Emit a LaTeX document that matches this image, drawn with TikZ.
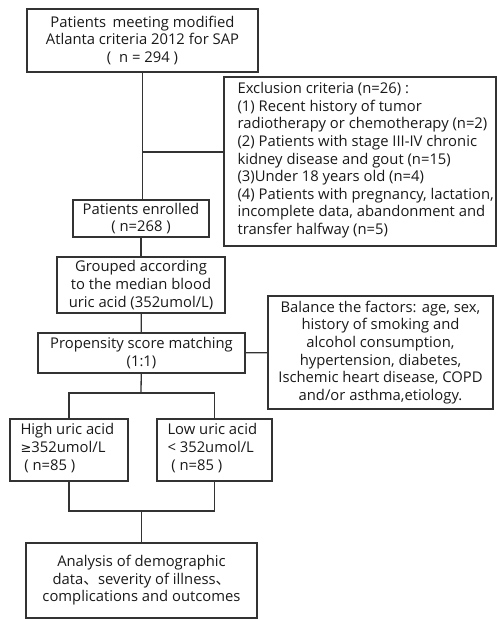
\documentclass[tikz,border=0pt]{standalone}
\usepackage{fontspec}
\setmainfont{Open Sans}
\newfontfamily\cjk{Noto Sans CJK SC}
\newfontfamily\symfont{DejaVu Sans}
\usepackage{tikz}
\usetikzlibrary{positioning,calc}

\begin{document}
\begin{tikzpicture}[
    x=1pt, y=-1pt,
    txt/.style={inner sep=0pt, text=black!90, font=\fontsize{14.8}{17.6}\selectfont},
    box/.style={txt, draw=black!80, line width=1.3pt, align=center},
    lefttext/.style={txt, align=left, anchor=north west},
    line/.style={draw=black!80, line width=1.3pt}
]
\useasboundingbox (0,0) rectangle (497,619);

% Boxes
\node[box, minimum width=231pt, minimum height=63pt] (screen) at (142.5, 40.5) {Patients\, meeting modified\\Atlanta criteria 2012 for SAP\\(\; n = 294 )};
\node[box, minimum width=272pt, minimum height=169pt] (excl) at (360, 161.5) {};
\node[lefttext] (excltext) at ($(excl.north west)+(14,6)$) {Exclusion criteria (n=26) :\\(1) Recent history of tumor\\radiotherapy or chemotherapy (n=2)\\(2) Patients with stage III-IV chronic\\kidney disease and gout (n=15)\\(3)Under 18 years old (n=4)\\(4) Patients with pregnancy, lactation,\\incomplete data, abandonment and\\transfer halfway (n=5)};
\node[box, minimum width=136pt, minimum height=37pt] (enrol) at (141, 218.5) {Patients enrolled\\( n=268 )};
\node[box, minimum width=168pt, minimum height=56pt] (group) at (141, 285) {Grouped according\\to the median blood\\uric acid (352umol/L)};
\node[box, minimum width=207pt, minimum height=40pt] (psm) at (141.5, 353) {Propensity score matching\\(1:1)};
\node[box, minimum width=225pt, minimum height=113pt] (balance) at (380.5, 352.5) {Balance the factors: age, sex,\\history of smoking and\\alcohol consumption,\\hypertension, diabetes,\\Ischemic heart disease, COPD\\and/or asthma,etiology.};
\node[box, minimum width=118pt, minimum height=62pt] (high) at (69, 450) {};
\node[lefttext] (hightext) at ($(high.north west)+(11,5)$) {High uric acid\\{\symfont\fontsize{13}{17.6}\selectfont ≥}352umol/L\\\ ( n=85 )};
\node[box, minimum width=115pt, minimum height=62pt] (low) at (214.5, 450) {};
\node[lefttext] (lowtext) at ($(low.north west)+(11,5)$) {Low uric acid\\< 352umol/L\\\ ( n=85 )};
\node[box, minimum width=231pt, minimum height=75pt] (final) at (141.5, 580.5) {Analysis of demographic\\data{\cjk 、}severity of illness{\cjk 、}\\complications and outcomes};

% Junctions
\coordinate (exj) at (142, 152);
\coordinate (split) at (141, 393);
\coordinate (merge) at (141.5, 511);

% Lines
\draw[line] (screen.south) -- (screen.south |- enrol.north);
\draw[line] (exj) -- (exj -| excl.west);
\draw[line] (enrol) -- (group);
\draw[line] (group) -- (psm);
\draw[line] (psm) -- (balance);
\draw[line] (psm) -- (split);
\draw[line] (high.north) |- (split) -| (low.north);
\draw[line] (high.south) |- (merge) -| (low.south);
\draw[line] (merge) -- (final);

\end{tikzpicture}
\end{document}
